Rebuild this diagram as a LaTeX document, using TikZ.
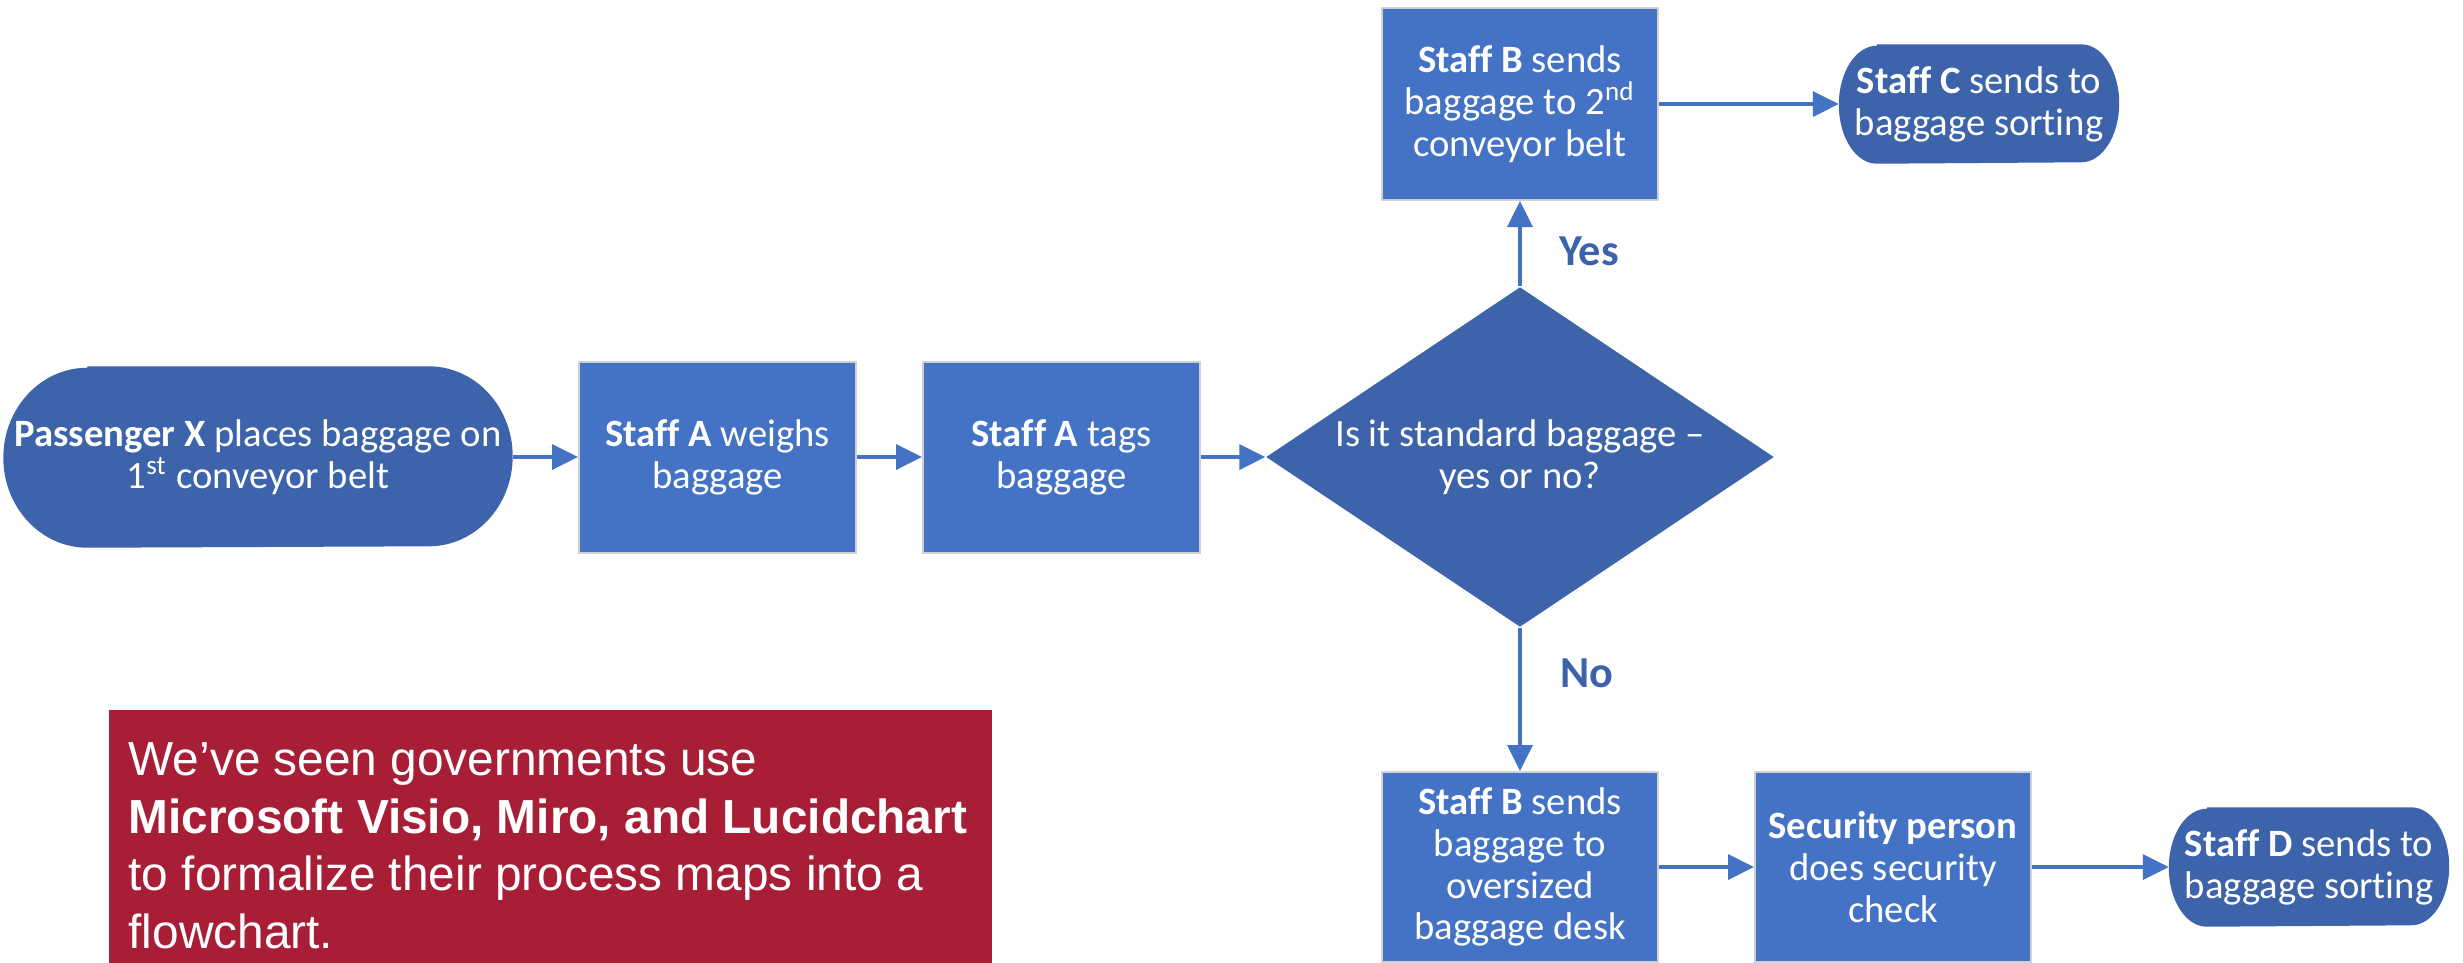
\documentclass[tikz,border=0pt]{standalone}
\usepackage{fontspec}
\setmainfont{Carlito}[Ligatures=NoCommon]
\newfontfamily\arialf{Liberation Sans}
\usetikzlibrary{shapes.geometric,arrows.meta,backgrounds}
\definecolor{boxblue}{HTML}{4472C4}
\definecolor{termblue}{HTML}{3D63AA}
\definecolor{lblblue}{HTML}{3B62AA}
\definecolor{msgred}{HTML}{A81E37}
\tikzset{
  base/.style={text=white, align=center, inner sep=0pt,
    font=\fontsize{11pt}{11.9pt}\selectfont},
  procbox/.style={base, rectangle, fill=boxblue, draw=black!18, line width=0.2mm,
    minimum width=27.7mm, minimum height=19.1mm},
  termbox/.style={base, rectangle,
    minimum width=27.9mm, minimum height=11.8mm},
  decbox/.style={base, diamond, fill=termblue, shape aspect=1.494,
    minimum width=50.8mm, minimum height=34mm},
  flow/.style={draw=boxblue, line width=0.35mm, -{Triangle[length=2.6mm,width=2.5mm]}},
  yn/.style={text=lblblue, font=\fontsize{12.6pt}{14pt}\selectfont\bfseries, inner sep=0pt, anchor=base}
}
% terminator outline with elliptical ends: #1 node, #2 x radius, #3 y radius
\newcommand{\termshape}[3]{%
  \fill[termblue] ([xshift=#2]#1.north west) -- ([xshift=-#2]#1.north east)
    arc[start angle=90, end angle=-90, x radius=#2, y radius=#3]
    -- ([xshift=#2]#1.south west)
    arc[start angle=270, end angle=90, x radius=#2, y radius=#3] -- cycle;}
\begin{document}
\begin{tikzpicture}[x=0.1mm, y=-0.1mm]
\useasboundingbox (0,0) rectangle (2463,962);
\clip (0,0) rectangle (2463,962);
% first row
\node[termbox, minimum width=50.8mm, minimum height=18.0mm] (pass) at (258,457)
  {\textbf{Passenger X} places baggage on\\1\textsuperscript{st} conveyor belt};
\node[procbox] (weigh) at (717.5,457) {\textbf{Staff A} weighs\\baggage};
\node[procbox] (tags) at (1061.5,457) {\textbf{Staff A} tags\\baggage};
\node[decbox] (dec) at (1520,457) {Is it standard baggage --\\yes or no?};
% top branch
\node[procbox, minimum width=27.6mm, minimum height=19.2mm] (sbtop) at (1520,104)
  {\textbf{Staff B} sends\\baggage to 2\textsuperscript{nd}\\conveyor belt};
\node[termbox] (sc) at (1979,104) {\textbf{Staff C} sends to\\baggage sorting};
% bottom branch
\node[procbox, minimum width=27.6mm, minimum height=19.0mm] (sbbot) at (1520,867)
  {\textbf{Staff B} sends\\baggage to\\oversized\\baggage desk};
\node[procbox, minimum width=27.6mm, minimum height=19.0mm] (sec) at (1893,867)
  {\textbf{Security person}\\does security\\check};
\node[termbox] (sd) at (2309,867) {\textbf{Staff D} sends to\\baggage sorting};
% terminator fills behind their text
\begin{scope}[on background layer]
  \termshape{pass}{8.4mm}{9mm}
  \termshape{sc}{3.8mm}{5.9mm}
  \termshape{sd}{3.8mm}{5.9mm}
\end{scope}
% labels
\node[yn] (yes) at (1589,265) {Yes};
\node[yn] (no) at (1587,687) {No};
% connectors
\draw[flow] (pass.east) -- (weigh.west);
\draw[flow] (weigh.east) -- (tags.west);
\draw[flow] (tags.east) -- (dec.west);
\draw[flow] (dec.north) -- (sbtop.south);
\draw[flow] (sbtop.east) -- (sc.west);
\draw[flow] (dec.south) -- (sbbot.north);
\draw[flow] (sbbot.east) -- (sec.west);
\draw[flow] (sec.east) -- (sd.west);
% message box
\node[fill=msgred, anchor=north west, minimum width=88.3mm, minimum height=27.4mm, inner sep=0pt] (msgbox) at (108,709) {};
\node[anchor=north west, align=left, inner sep=0pt, text=white,
  font=\arialf\fontsize{13.6pt}{16.4pt}\selectfont] (msg) at (128,742)
  {We’ve seen governments use\\\textbf{Microsoft Visio, Miro, and Lucidchart}\\to formalize their process maps into a\\flowchart.};
\end{tikzpicture}
\end{document}
